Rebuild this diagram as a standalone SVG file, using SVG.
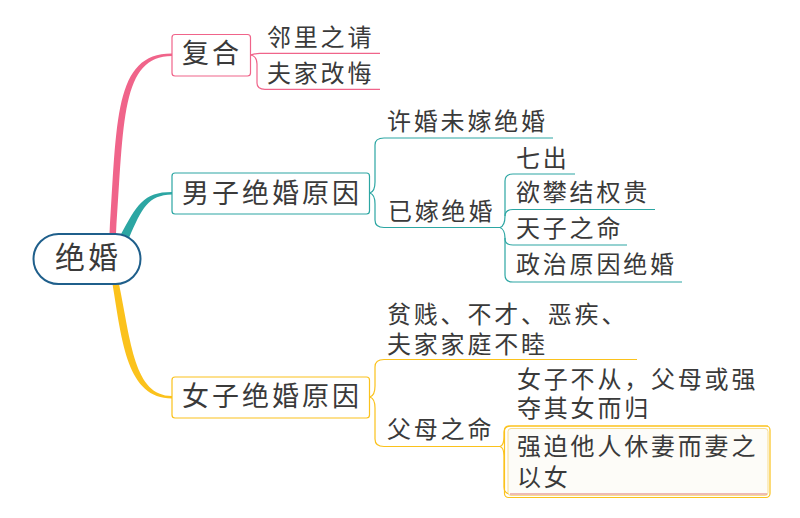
<svg xmlns="http://www.w3.org/2000/svg" width="800" height="518" viewBox="0 0 800 518">
<style>
text{font-family:"Noto Sans CJK SC","Noto Sans",sans-serif;fill:#3a3a3a;letter-spacing:2.8px}
.t1{font-size:30px;letter-spacing:3px}
.t2{font-size:27px;letter-spacing:3px}
.t3{font-size:24px}
.pk{stroke:#f0648a}
.tl{stroke:#2ca6a3}
.yl{stroke:#fbc21c}
.ln{fill:none;stroke-width:1.2}
.box{fill:#fff;stroke-width:1.2}
</style>
<rect width="800" height="518" fill="#fff"/>
<g id="connectors">
  <path d="M109.5 234 C117 120, 114 53.2, 172 53.6 L172 56 C121 56.5, 124 120, 116 234 Z" fill="#f0648a"/>
  <path d="M120 236 C137 205, 143 192, 172 192 L172 194.5 C148 195, 142 208, 129 238 Z" fill="#2ca6a3"/>
  <path d="M112.5 284 C122 342, 127 398.5, 172 398.5 L172 396 C134 396, 131 342, 119 284 Z" fill="#fbc21c"/>
  <path class="ln pk" d="M251 55 C254 54, 256 53.3, 260 53.3 L380 53.3"/>
  <path class="ln pk" d="M251 55 C255 56, 257 58, 257 64 L257 83 C257 87, 260 89.3, 265 89.3 L380 89.3"/>
  <path class="ln tl" d="M370 193 C373 192, 375 188, 375 182 L375 145 C375 140.5, 378 138, 384 138 L553 138"/>
  <path class="ln tl" d="M370 193 C373 194, 375 198, 375 204 L375 220 C375 225, 378 227.5, 384 227.5 L500 227.5"/>
  <path class="ln tl" d="M500 227.5 C503 226.5, 505 222, 505 216 L505 181 C505 176.5, 507 174, 513 174 L575 174"/>
  <path class="ln tl" d="M505 216 C505 212, 507 209.5, 513 209.5 L655 209.5"/>
  <path class="ln tl" d="M500 227.5 C503 228.5, 505 233, 505 238 L505 239 C505 243, 507 245, 513 245 L627 245"/>
  <path class="ln tl" d="M505 238 L505 275 C505 279.5, 507 282, 513 282 L682 282"/>
  <path class="ln yl" d="M370 397 C373 396, 375 392, 375 386 L375 367 C375 362, 378 359.5, 384 359.5 L637 359.5"/>
  <path class="ln yl" d="M370 397 C373 398, 375 402, 375 408 L375 439 C375 444, 378 446.5, 384 446.5 L500 446.5"/>
  <path class="ln yl" d="M500 446.5 C503 445.5, 504 442, 504 437 L504 432 C504 428, 506 426, 511 426 L768 426"/>
  <path class="ln yl" d="M500 446.5 C503 447.5, 504 451, 504 456 L504 487 C504 491, 506 494, 511 494"/>
</g>
<g id="root">
  <rect x="33.5" y="234" width="107" height="50" rx="25" fill="#fff" stroke="#1f5f8b" stroke-width="2"/>
  <text class="t1" x="55" y="268">绝婚</text>
</g>
<g id="n-fuhe">
  <rect class="box pk" x="172" y="34.5" width="78.5" height="41.5" rx="3"/>
  <text class="t2" x="182" y="63">复合</text>
</g>
<g id="n-linli"><text class="t3" x="267" y="45.5">邻里之请</text></g>
<g id="n-fujia"><text class="t3" x="267" y="81.5">夫家改悔</text></g>
<g id="n-nanzi">
  <rect class="box tl" x="172" y="173" width="197.5" height="41" rx="3"/>
  <text class="t2" x="182" y="202.5">男子绝婚原因</text>
</g>
<g id="n-xuhun"><text class="t3" x="387" y="130">许婚未嫁绝婚</text></g>
<g id="n-yijia"><text class="t3" x="388" y="220">已嫁绝婚</text></g>
<g id="n-qichu"><text class="t3" x="516" y="166.5">七出</text></g>
<g id="n-yupan"><text class="t3" x="516" y="201">欲攀结权贵</text></g>
<g id="n-tianzi"><text class="t3" x="516" y="236.5">天子之命</text></g>
<g id="n-zhengzhi"><text class="t3" x="516" y="273">政治原因绝婚</text></g>
<g id="n-nvzi">
  <rect class="box yl" x="172" y="377" width="197.5" height="41" rx="3"/>
  <text class="t2" x="182" y="406">女子绝婚原因</text>
</g>
<g id="n-pinjian"><text class="t3"><tspan x="387" y="323">贫贱、不才、恶疾、</tspan><tspan x="387" y="352.5">夫家家庭不睦</tspan></text></g>
<g id="n-fumu"><text class="t3" x="387" y="438">父母之命</text></g>
<g id="n-buchong"><text class="t3"><tspan x="517" y="388">女子不从，父母或强</tspan><tspan x="517" y="416.5">夺其女而归</tspan></text></g>
<g id="n-qiangpo">
  <rect x="504.5" y="426" width="265.5" height="71.5" rx="4" fill="none" stroke="#fbc21c" stroke-width="1.2"/>
  <rect x="508" y="428.5" width="260" height="67" rx="3" fill="#fdfcf8" stroke="#f8dd8c" stroke-width="1"/>
  <line x1="510" y1="494" x2="767" y2="494" stroke="#e07a72" stroke-width="1.2"/>
  <text class="t3"><tspan x="517" y="455">强迫他人休妻而妻之</tspan><tspan x="517" y="486">以女</tspan></text>
</g>
</svg>
